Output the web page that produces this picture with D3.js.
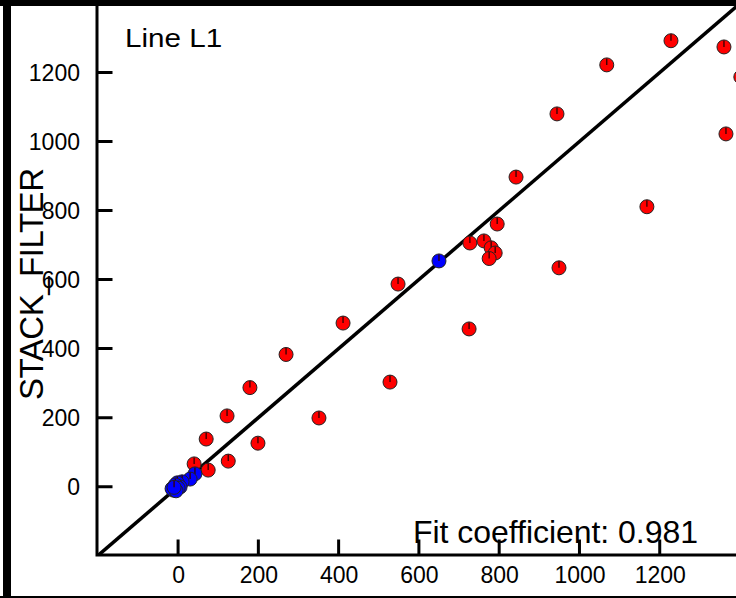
<!DOCTYPE html>
<html>
<head>
<meta charset="utf-8">
<script src="https://cdn.jsdelivr.net/npm/d3@7"></script>
<style>
  body { margin: 0; background: #fff; }
  text { font-family: "Liberation Sans", Arial, sans-serif; fill: #000; }
</style>
</head>
<body>
<div id="vis"></div>
<script>
// Measured vs. filtered values, red = stack points, blue = reference points
var redX = [1228, 1360, 1402, 1068, 944, 1365, 842, 1168, 795, 727, 762, 780, 790, 775, 949, 548, 725,
            411, 269, 179, 122, 528, 351, 199, 70, 125, 40, 75];
var redY = [1292, 1274, 1187, 1222, 1080, 1022, 897, 811, 761, 706, 712, 692, 677, 661, 634, 587, 457,
            474, 383, 287, 205, 303, 199, 126, 138, 74, 66, 48];
var blueX = [650, 42, 30, 10, -2, 5, -7, 0, -12, -15, -5, -10];
var blueY = [654, 37, 22, 14, 11, -1, 5, -4, -10, -6, -12, -2];
var xTicks = [0, 200, 400, 600, 800, 1000, 1200];
var yTicks = [0, 200, 400, 600, 800, 1000, 1200];
var yTitle = "STACK_FILTER";
var lineLabel = "Line L1";
var fitLabel = "Fit coefficient: 0.981";

var width = 736, height = 598;
var left = 97, bottom = 555, tickLen = 14;

var x = d3.scaleLinear().domain([-202, 1390]).range([left, width]);
var y = d3.scaleLinear().domain([-198, 1410]).range([bottom, 0]);

var svg = d3.select("#vis").append("svg")
    .attr("width", width)
    .attr("height", height);

// frame bits around the picture
svg.append("rect").attr("x", 0).attr("y", 0).attr("width", width).attr("height", 6).attr("fill", "#000");
svg.append("rect").attr("x", 3).attr("y", 0).attr("width", 8).attr("height", height).attr("fill", "#000");
svg.append("rect").attr("x", 0).attr("y", 596).attr("width", width).attr("height", 2).attr("fill", "#000");

var defs = svg.append("defs");
defs.append("clipPath").attr("id", "plot")
  .append("rect").attr("x", left).attr("y", 6).attr("width", width - left).attr("height", bottom - 6);

// y = x reference line
svg.append("line")
    .attr("clip-path", "url(#plot)")
    .attr("x1", x(-202)).attr("y1", y(-202))
    .attr("x2", x(1500)).attr("y2", y(1500))
    .attr("stroke", "#000").attr("stroke-width", 3.5);

// markers
function drawPoints(xs, ys, fill) {
  var pts = xs.map(function (v, i) { return [v, ys[i]]; });
  var g = svg.append("g").attr("clip-path", "url(#plot)")
    .selectAll("g").data(pts).enter().append("g")
    .attr("transform", function (d) { return "translate(" + x(d[0]) + "," + y(d[1]) + ")"; });
  g.append("circle").attr("r", 7).attr("fill", fill).attr("stroke", "#222").attr("stroke-width", 1);
  g.append("line").attr("x1", 0).attr("x2", 0).attr("y1", -6.5).attr("y2", 0)
    .attr("stroke", "#300").attr("stroke-width", 1.3);
}
drawPoints(redX, redY, "#ff0000");
drawPoints(blueX, blueY, "#0000ff");

// tick labels from d3 axes
var xAxis = svg.append("g")
    .attr("transform", "translate(0," + bottom + ")")
    .call(d3.axisTop(x).tickValues(xTicks).tickSize(tickLen).tickFormat(d3.format("d")));
xAxis.select(".domain").remove();
xAxis.selectAll(".tick line").remove();
xAxis.selectAll(".tick text")
    .attr("y", 28).attr("dy", 0)
    .style("font-size", "23px");

var yAxis = svg.append("g")
    .attr("transform", "translate(" + left + ",0)")
    .call(d3.axisRight(y).tickValues(yTicks).tickSize(tickLen).tickFormat(d3.format("d")));
yAxis.select(".domain").remove();
yAxis.selectAll(".tick line").remove();
yAxis.selectAll(".tick text")
    .attr("x", -17).attr("dy", "0.36em")
    .attr("text-anchor", "end")
    .style("font-size", "23px");

// axis lines and inward ticks as one path
var p = d3.path();
p.moveTo(left, 0);
p.lineTo(left, bottom);
p.lineTo(width, bottom);
xTicks.forEach(function (t) { p.moveTo(x(t), bottom); p.lineTo(x(t), bottom - tickLen); });
yTicks.forEach(function (t) { p.moveTo(left, y(t)); p.lineTo(left + tickLen, y(t)); });
svg.append("path")
    .attr("d", p.toString())
    .attr("fill", "none")
    .attr("stroke", "#000")
    .attr("stroke-width", 3)
    .attr("stroke-linecap", "square");

// labels
svg.append("text").attr("transform", "translate(125,47) scale(1.14,1)")
    .style("font-size", "26px").text(lineLabel);
svg.append("text").attr("x", 413).attr("y", 543)
    .style("font-size", "32px").attr("textLength", 285).text(fitLabel);
svg.append("text").attr("transform", "translate(43,284) rotate(-90)")
    .attr("text-anchor", "middle").attr("textLength", 232)
    .style("font-size", "33px").text(yTitle);
</script>
</body>
</html>
